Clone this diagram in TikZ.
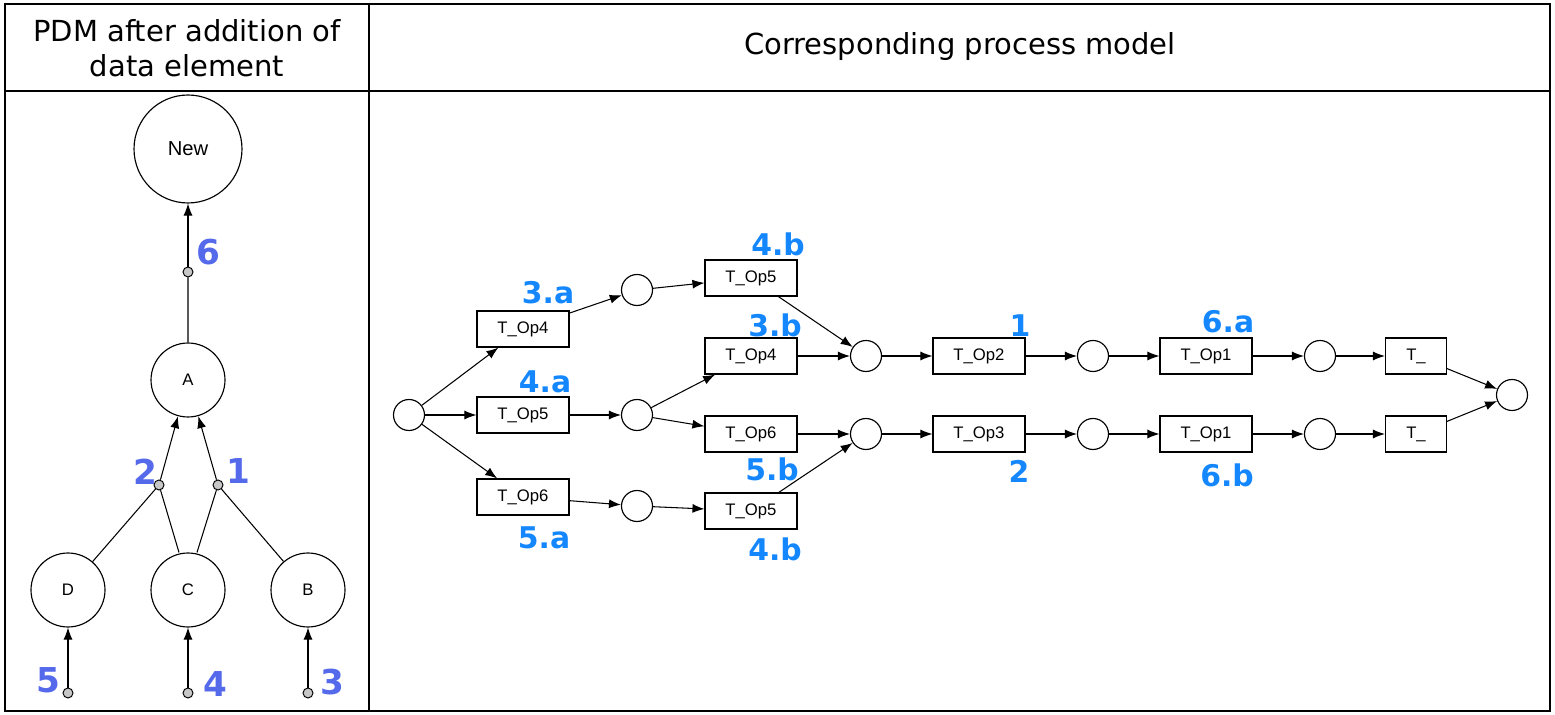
\documentclass[tikz,border=0pt]{standalone}
\usepackage{fontspec}
\setmainfont{DejaVu Sans}
\newfontfamily\arialfont{Liberation Sans}
\usepackage{xcolor}
\usetikzlibrary{arrows.meta}
\definecolor{numblue}{RGB}{20,135,255}
\definecolor{pdmblue}{RGB}{85,105,235}

\begin{document}
\begin{tikzpicture}[x=.02cm,y=-.02cm,
  data/.style={circle,draw,line width=.65pt,minimum size=1.48cm,inner sep=0pt,
    font=\arialfont\fontsize{9.5}{9.5}\selectfont},
  op/.style={circle,draw,fill=black!22,line width=.55pt,minimum size=.2cm,inner sep=0pt},
  place/.style={circle,draw,line width=.65pt,minimum size=.62cm,inner sep=0pt},
  trans/.style={draw,line width=.65pt,minimum width=1.84cm,minimum height=.72cm,inner sep=0pt,
    font=\arialfont\fontsize{9.5}{9.5}\selectfont},
  num/.style={text=numblue,font=\bfseries\fontsize{17}{17}\selectfont,inner sep=0pt},
  pdmnum/.style={text=pdmblue,font=\bfseries\fontsize{19.5}{19.5}\selectfont,inner sep=0pt},
  arr/.style={line width=.6pt,-{Latex[length=2.4mm,width=1.8mm]}}]
 \useasboundingbox (0,0) rectangle (1555,715);
 \draw[line width=1.1pt] (5,4) rectangle (1550,711) (369,4)--(369,711) (5,91)--(1550,91);
 \node[align=center,font=\fontsize{16.5}{20}\selectfont] (head1) at (187,48)
  {PDM after addition of\\data element};
 \node[font=\fontsize{16.5}{20}\selectfont] (head2) at (960,47) {Corresponding process model};

 \node[data,minimum size=2.16cm,font=\arialfont\fontsize{11.5}{11.5}\selectfont] (new) at (188,149) {New};
 \node[data] (a) at (188,380) {A};
 \node[data] (d) at (68,590) {D};
 \node[data] (c) at (188,590) {C};
 \node[data] (b) at (308,590) {B};
 \node[op] (o6) at (188,272) {};
 \node[op] (o2) at (159,485) {};
 \node[op] (o1) at (218,485) {};
 \node[op] (o5) at (68,693) {};
 \node[op] (o4) at (188,693) {};
 \node[op] (o3) at (308,693) {};
 \draw[line width=.6pt] (a)--(o6) (d)--(o2) (c.north)+(-9,0)--(o2) (c.north)+(9,0)--(o1) (b)--(o1);
 \draw[arr] (o6)--(new);
 \draw[arr] (o2)--(a);
 \draw[arr] (o1)--(a);
 \draw[arr] (o5)--(d);
 \draw[arr] (o4)--(c);
 \draw[arr] (o3)--(b);
 \node[pdmnum] (n6) at (208,252) {6};
 \node[pdmnum] (n2) at (145,472) {2};
 \node[pdmnum] (n1) at (238,471) {1};
 \node[pdmnum] (n5) at (48,680) {5};
 \node[pdmnum] (n4) at (215,684) {4};
 \node[pdmnum] (n3) at (332,682) {3};

 \node[place] (p0) at (409,415) {};
 \node[trans] (t4a) at (523,329) {T\_Op4};
 \node[trans] (t5a) at (523,415) {T\_Op5};
 \node[trans] (t6a) at (523,497) {T\_Op6};
 \node[place] (pa) at (637,290) {};
 \node[place] (pb) at (637,415) {};
 \node[place] (pc) at (637,506) {};
 \node[trans] (t5b) at (751,278) {T\_Op5};
 \node[trans] (t4b) at (751,356) {T\_Op4};
 \node[trans] (t6b) at (751,434) {T\_Op6};
 \node[trans] (t5c) at (751,511) {T\_Op5};
 \node[place] (j1) at (866,356) {};
 \node[place] (j2) at (866,434) {};
 \node[trans] (t2) at (979,356) {T\_Op2};
 \node[trans] (t3) at (979,434) {T\_Op3};
 \node[place] (q1) at (1093,356) {};
 \node[place] (q2) at (1093,434) {};
 \node[trans] (t1a) at (1206,356) {T\_Op1};
 \node[trans] (t1b) at (1206,434) {T\_Op1};
 \node[place] (r1) at (1320,356) {};
 \node[place] (r2) at (1320,434) {};
 \node[trans,minimum width=1.22cm] (ta) at (1416,356) {T\_};
 \node[trans,minimum width=1.22cm] (tb) at (1416,434) {T\_};
 \node[place] (pe) at (1512,395) {};
 \foreach \u/\v in {p0/t4a,p0/t5a,p0/t6a,t4a/pa,t5a/pb,t6a/pc,pa/t5b,pb/t4b,pb/t6b,pc/t5c,
   t5b/j1,t4b/j1,t6b/j2,t5c/j2,j1/t2,j2/t3,t2/q1,t3/q2,q1/t1a,q2/t1b,t1a/r1,t1b/r2,
   r1/ta,r2/tb,ta/pe,tb/pe}
  \draw[arr] (\u)--(\v);
 \node[num] (l3a) at (548,293) {3.a};
 \node[num] (l4b) at (778,244) {4.b};
 \node[num] (l3b) at (775,325) {3.b};
 \node[num] (l4a) at (545,382) {4.a};
 \node[num] (l5b) at (772,469) {5.b};
 \node[num] (l5a) at (544,538) {5.a};
 \node[num] (l4c) at (775,549) {4.b};
 \node[num] (l1) at (1020,326) {1};
 \node[num] (l2) at (1019,471) {2};
 \node[num] (l6a) at (1228,322) {6.a};
 \node[num] (l6b) at (1227,475) {6.b};
\end{tikzpicture}
\end{document}
